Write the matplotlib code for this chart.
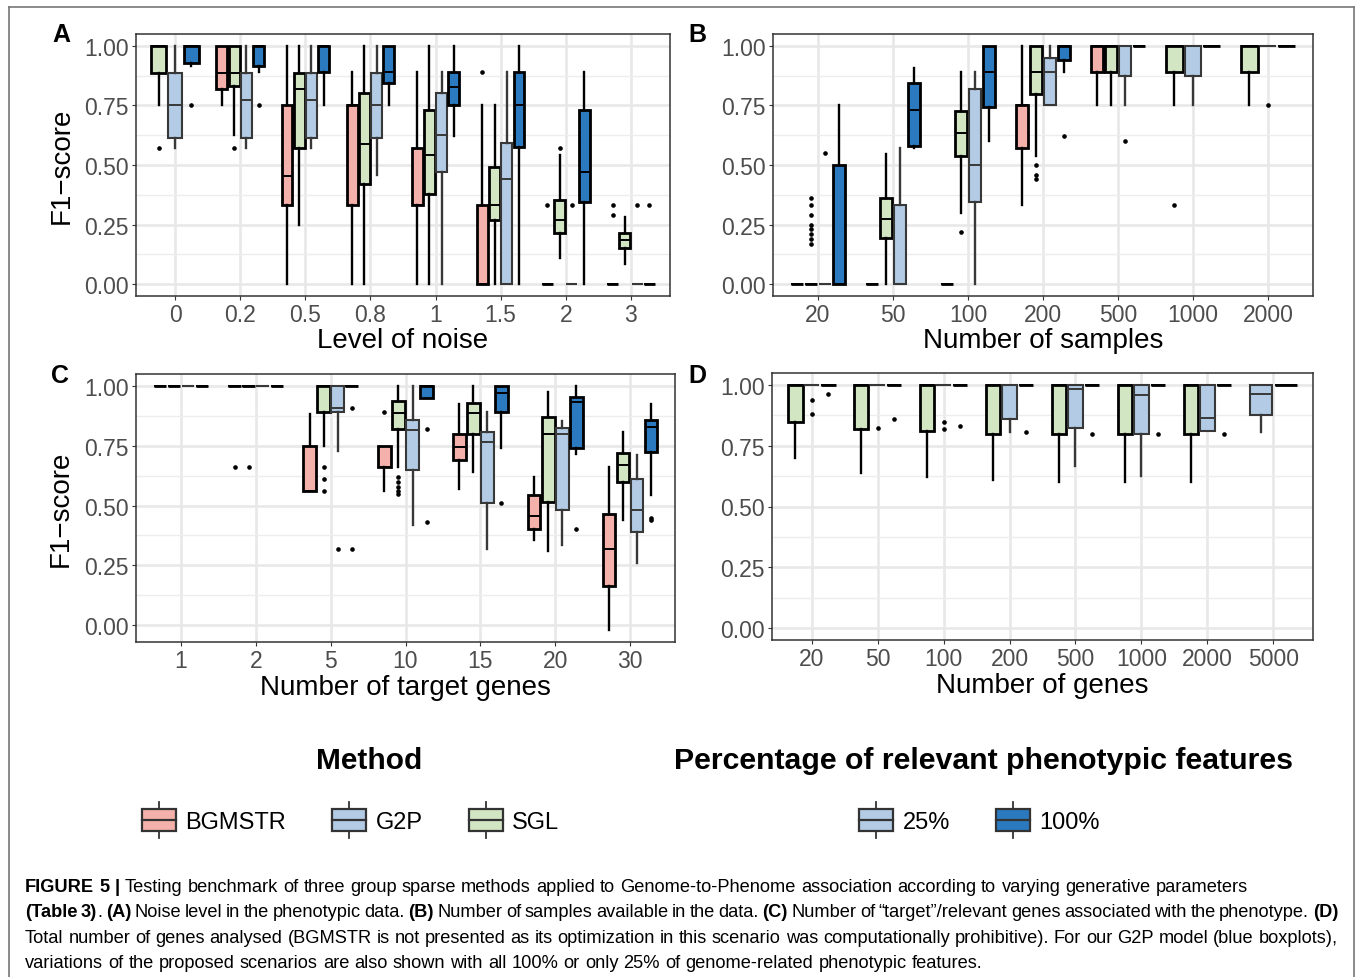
import numpy as np
import matplotlib
matplotlib.use('Agg')
import matplotlib.pyplot as plt
from matplotlib.patches import Patch, Rectangle
from matplotlib.lines import Line2D
from matplotlib.legend_handler import HandlerBase

plt.rcParams['font.family'] = ['Liberation Sans', 'DejaVu Sans']

W, H = 1357, 978

# ---- data: five-number summaries [lower whisker, q1, median, q3, upper whisker], None = not run
# panel A: level of noise
noise_levels = ['0', '0.2', '0.5', '0.8', '1', '1.5', '2', '3']
noise_bgmstr = [None, [0.75, 0.817, 0.886, 1, 1], [0, 0.33, 0.453, 0.75, 1], [0, 0.33, 0.75, 0.75, 0.889],
                [0, 0.33, 0.33, 0.57, 0.889], [0, 0, 0, 0.33, 0.75], [0, 0, 0, 0, 0], [0, 0, 0, 0, 0]]
noise_bgmstr_out = [[], [], [], [], [], [0.889], [0.33], [0.33, 0.29]]
noise_sgl = [[0.75, 0.886, 1, 1, 1], [0.625, 0.833, 0.886, 1, 1], [0.247, 0.572, 0.817, 0.886, 1],
             [0, 0.42, 0.588, 0.803, 1], [0, 0.38, 0.544, 0.729, 1], [0, 0.271, 0.33, 0.492, 0.75],
             [0.111, 0.215, 0.267, 0.354, 0.542], [0.083, 0.153, 0.185, 0.215, 0.28]]
noise_sgl_out = [[0.57], [0.57], [], [], [], [], [0.57], []]
noise_g2p25 = [[0.57, 0.614, 0.75, 0.886, 1], [0.57, 0.614, 0.775, 0.886, 1], [0.57, 0.614, 0.775, 0.886, 1],
               [0.458, 0.614, 0.75, 0.886, 1], [0, 0.469, 0.625, 0.803, 0.889], [0, 0, 0.44, 0.592, 0.889],
               [0, 0, 0, 0, 0], [0, 0, 0, 0, 0]]
noise_g2p25_out = [[], [], [], [], [], [], [0.33], [0.33]]
noise_g2p100 = [[0.914, 0.928, 1, 1, 1], [0.889, 0.917, 1, 1, 1], [0.75, 0.892, 1, 1, 1],
                [0.75, 0.843, 0.889, 1, 1], [0.621, 0.75, 0.829, 0.889, 1], [0, 0.576, 0.75, 0.889, 1],
                [0, 0.344, 0.469, 0.732, 0.889], [0, 0, 0, 0, 0]]
noise_g2p100_out = [[0.75], [0.75], [], [], [], [], [], [0.33]]

# panel B: number of samples
sample_sizes = ['20', '50', '100', '200', '500', '1000', '2000']
samp_bgmstr = [[0, 0, 0, 0, 0], [0, 0, 0, 0, 0], [0, 0, 0, 0, 0], [0.334, 0.57, 0.75, 0.75, 1],
               [0.75, 0.889, 1, 1, 1], None, None]
samp_bgmstr_out = [[], [], [], [], [], [], []]
samp_sgl = [[0, 0, 0, 0, 0], [0, 0.195, 0.275, 0.36, 0.546], [0.30, 0.538, 0.636, 0.727, 0.889],
            [0.536, 0.8, 0.889, 1, 1], [0.75, 0.889, 1, 1, 1], [0.75, 0.889, 1, 1, 1], [0.75, 0.889, 1, 1, 1]]
samp_sgl_out = [[0.36, 0.33, 0.29, 0.25, 0.23, 0.21, 0.19, 0.17], [], [0.22], [0.5, 0.46, 0.44], [], [0.33], []]
samp_g2p25 = [[0, 0, 0, 0, 0], [0, 0, 0, 0.33, 0.571], [0, 0.345, 0.5, 0.82, 0.889], [0.75, 0.75, 0.889, 0.95, 1],
              [0.75, 0.875, 1, 1, 1], [0.75, 0.875, 1, 1, 1], [1, 1, 1, 1, 1]]
samp_g2p25_out = [[0.55], [], [], [], [0.6], [], [0.75]]
samp_g2p100 = [[0, 0, 0, 0.5, 0.75], [0.571, 0.58, 0.73, 0.845, 0.908], [0.6, 0.745, 0.889, 1, 1],
               [0.889, 0.94, 1, 1, 1], [1, 1, 1, 1, 1], [1, 1, 1, 1, 1], [1, 1, 1, 1, 1]]
samp_g2p100_out = [[], [], [], [0.62], [], [], []]

# panel C: number of target genes
target_genes = ['1', '2', '5', '10', '15', '20', '30']
targ_bgmstr = [[1, 1, 1, 1, 1], [1, 1, 1, 1, 1], [0.56, 0.56, 0.56, 0.75, 0.885], [0.56, 0.66, 0.66, 0.75, 0.75],
               [0.57, 0.69, 0.745, 0.8, 0.925], [0.355, 0.4, 0.455, 0.545, 0.62], [-0.02, 0.165, 0.32, 0.465, 0.66]]
targ_bgmstr_out = [[], [0.66], [], [0.89], [], [], []]
targ_sgl = [[1, 1, 1, 1, 1], [1, 1, 1, 1, 1], [0.75, 0.89, 1, 1, 1], [0.66, 0.82, 0.886, 0.94, 1],
            [0.64, 0.8, 0.886, 0.93, 1], [0.31, 0.515, 0.8, 0.87, 0.975], [0.44, 0.6, 0.67, 0.72, 0.81]]
targ_sgl_out = [[], [0.66], [0.66, 0.61, 0.56], [0.62, 0.6, 0.58, 0.56, 0.55], [], [], []]
targ_g2p25 = [[1, 1, 1, 1, 1], [1, 1, 1, 1, 1], [0.73, 0.89, 0.91, 1, 1], [0.42, 0.65, 0.815, 0.86, 1],
              [0.32, 0.51, 0.765, 0.81, 0.89], [0.335, 0.48, 0.8, 0.825, 0.855], [0.26, 0.39, 0.48, 0.61, 0.71]]
targ_g2p25_out = [[], [], [0.32], [], [], [], []]
targ_g2p100 = [[1, 1, 1, 1, 1], [1, 1, 1, 1, 1], [1, 1, 1, 1, 1], [0.95, 0.95, 1, 1, 1],
               [0.74, 0.89, 0.97, 1, 1], [0.715, 0.74, 0.935, 0.955, 1], [0.545, 0.725, 0.83, 0.86, 0.925]]
targ_g2p100_out = [[], [], [0.91, 0.32], [0.82, 0.43], [0.51], [0.4], [0.45, 0.44]]

# panel D: total number of genes (no BGMSTR)
gene_counts = ['20', '50', '100', '200', '500', '1000', '2000', '5000']
gene_bgmstr = [None] * 8
gene_bgmstr_out = [[]] * 8
gene_sgl = [[0.7, 0.85, 1, 1, 1], [0.64, 0.82, 1, 1, 1], [0.62, 0.81, 1, 1, 1], [0.61, 0.8, 1, 1, 1],
            [0.6, 0.8, 1, 1, 1], [0.6, 0.8, 1, 1, 1], [0.6, 0.8, 1, 1, 1], None]
gene_sgl_out = [[], [], [], [], [], [], [], []]
gene_g2p25 = [[1, 1, 1, 1, 1], [1, 1, 1, 1, 1], [1, 1, 1, 1, 1], [0.805, 0.86, 1, 1, 1],
              [0.665, 0.825, 0.985, 1, 1], [0.625, 0.8, 0.96, 1, 1], [0.81, 0.81, 0.865, 1, 1],
              [0.805, 0.875, 0.965, 1, 1]]
gene_g2p25_out = [[0.94, 0.88], [0.825], [0.85, 0.82], [], [], [], [], []]
gene_g2p100 = [[1, 1, 1, 1, 1]] * 8
gene_g2p100_out = [[0.965], [0.86], [0.83], [0.805], [0.8], [0.8], [0.8], []]

GROUPS = ['BGMSTR', 'SGL', 'G2P25', 'G2P100']
FILL = {'BGMSTR': '#F4B0AB', 'SGL': '#D3E6C4', 'G2P25': '#B3CBE5', 'G2P100': '#2B7AC0'}
EDGE = {'BGMSTR': 'black', 'SGL': 'black', 'G2P25': '#383838', 'G2P100': 'black'}


def draw_panel(ax, cats, series, xlabel, ylabel=None):
    n_cat = len(cats)
    allv = [0.0, 1.0]  # y scale always covers 0..1
    for g in GROUPS:
        summ, outs = series[g]
        stats, pos, widths = [], [], []
        for ci in range(n_cat):
            if summ[ci] is None:
                continue
            present = [h for h in GROUPS if series[h][0][ci] is not None]
            n = len(present)
            slot = 0.75 / n
            k = present.index(g)
            pos.append(ci + (k - (n - 1) / 2) * slot)
            widths.append(slot * 0.9)
            lo, q1, med, q3, hi = summ[ci]
            stats.append(dict(whislo=lo, q1=q1, med=med, q3=q3, whishi=hi, fliers=outs[ci]))
            allv += list(summ[ci]) + list(outs[ci])
        if not stats:
            continue
        ec = EDGE[g]
        lw = 1.5 if g == 'G2P25' else 2.0
        ax.bxp(stats, positions=pos, widths=widths, patch_artist=True, showcaps=False,
               boxprops=dict(facecolor=FILL[g], edgecolor=ec, linewidth=lw),
               medianprops=dict(color=ec, linewidth=1.4),
               whiskerprops=dict(color=ec, linewidth=1.7),
               flierprops=dict(marker='o', markersize=2.3, markerfacecolor='black',
                               markeredgecolor='black', linestyle='none'),
               manage_ticks=False)
    ax.set_xticks(range(n_cat))
    ax.set_xticklabels(cats)
    ax.set_yticks([0, 0.25, 0.5, 0.75, 1.0])
    ax.set_yticklabels(['0.00', '0.25', '0.50', '0.75', '1.00'])
    ax.set_yticks([0.125, 0.375, 0.625, 0.875], minor=True)
    lo, hi = min(allv), max(allv)
    pad = 0.05 * (hi - lo)
    ax.set_ylim(lo - pad, hi + pad)
    ax.set_xlim(-0.6, n_cat - 1 + 0.6)
    ax.grid(True, which='major', color='#E8E8E8', linewidth=1.9)
    ax.grid(True, which='minor', axis='y', color='#EDEDED', linewidth=1.0)
    ax.set_axisbelow(True)
    ax.tick_params(which='major', length=3, width=0.8, color='#333333', labelcolor='#4D4D4D',
                   labelsize=16.5, pad=2)
    ax.tick_params(which='minor', length=0)
    for s in ax.spines.values():
        s.set_color('#333333')
        s.set_linewidth(1.1)
    ax.set_xlabel(xlabel, fontsize=20, color='black')
    ax.xaxis.set_label_coords(0.5, -0.12)
    if ylabel:
        ax.set_ylabel(ylabel, fontsize=20, color='black')
        ax.yaxis.set_label_coords(-0.115, 0.5)


def px_axes(fig, x0, y0, x1, y1):
    return fig.add_axes([x0 / W, 1 - y1 / H, (x1 - x0) / W, (y1 - y0) / H])


fig = plt.figure(figsize=(W / 100, H / 100), dpi=100)
fig.patch.set_facecolor('white')

axA = px_axes(fig, 136, 35, 670, 297)
axB = px_axes(fig, 773, 35, 1313, 297)
axC = px_axes(fig, 136, 375, 675, 643)
axD = px_axes(fig, 772, 374, 1313, 641)

draw_panel(axA, noise_levels, {'BGMSTR': (noise_bgmstr, noise_bgmstr_out), 'SGL': (noise_sgl, noise_sgl_out),
                               'G2P25': (noise_g2p25, noise_g2p25_out), 'G2P100': (noise_g2p100, noise_g2p100_out)},
           'Level of noise', 'F1\u2212score')
draw_panel(axB, sample_sizes, {'BGMSTR': (samp_bgmstr, samp_bgmstr_out), 'SGL': (samp_sgl, samp_sgl_out),
                               'G2P25': (samp_g2p25, samp_g2p25_out), 'G2P100': (samp_g2p100, samp_g2p100_out)},
           'Number of samples')
draw_panel(axC, target_genes, {'BGMSTR': (targ_bgmstr, targ_bgmstr_out), 'SGL': (targ_sgl, targ_sgl_out),
                               'G2P25': (targ_g2p25, targ_g2p25_out), 'G2P100': (targ_g2p100, targ_g2p100_out)},
           'Number of target genes', 'F1\u2212score')
draw_panel(axD, gene_counts, {'BGMSTR': (gene_bgmstr, gene_bgmstr_out), 'SGL': (gene_sgl, gene_sgl_out),
                              'G2P25': (gene_g2p25, gene_g2p25_out), 'G2P100': (gene_g2p100, gene_g2p100_out)},
           'Number of genes')

for letter, x, y in [('A', 61, 35), ('B', 697, 35), ('C', 60, 376), ('D', 697, 376)]:
    fig.text(x / W, 1 - y / H, letter, ha='center', va='center', fontsize=18, weight='bold')


# legend keys drawn like small boxplots
class BoxKey(HandlerBase):
    def create_artists(self, legend, orig_handle, xdescent, ydescent, width, height, fontsize, trans):
        x0, y0 = -xdescent, -ydescent
        bh = 16
        yb = y0 + (height - bh) / 2
        fc = orig_handle.get_facecolor()
        rect = Rectangle((x0, yb), width, bh, facecolor=fc, edgecolor='#333333', linewidth=1.6, transform=trans)
        xm = x0 + width / 2
        med = Line2D([x0, x0 + width], [yb + bh / 2] * 2, color='#333333', linewidth=1.6, transform=trans)
        w1 = Line2D([xm, xm], [yb + bh, yb + bh + 5], color='#333333', linewidth=1.3, transform=trans)
        w2 = Line2D([xm, xm], [yb, yb - 5], color='#333333', linewidth=1.3, transform=trans)
        return [w1, w2, rect, med]


leg_kw = dict(handler_map={Patch: BoxKey()}, frameon=False, handlelength=1.44, handleheight=1.0,
              handletextpad=0.4, columnspacing=1.95, fontsize=17, borderpad=0, borderaxespad=0)
method_labels = ['BGMSTR', 'G2P', 'SGL']
method_handles = [Patch(facecolor=FILL['BGMSTR']), Patch(facecolor=FILL['G2P25']), Patch(facecolor=FILL['SGL'])]
pct_labels = ['25%', '100%']
pct_handles = [Patch(facecolor=FILL['G2P25']), Patch(facecolor=FILL['G2P100'])]
fig.legend(method_handles, method_labels, loc='center left', bbox_to_anchor=(142 / W, 1 - 822 / H), ncol=3, **leg_kw)
fig.legend(pct_handles, pct_labels, loc='center left', bbox_to_anchor=(859 / W, 1 - 822 / H), ncol=2, **leg_kw)
fig.text(369 / W, 1 - 761 / H, 'Method', ha='center', va='center', fontsize=21.5, weight='bold')
fig.text(983 / W, 1 - 761 / H, 'Percentage of relevant phenotypic features', ha='center', va='center',
         fontsize=21.8, weight='bold')

# outer frame
frame_kw = dict(color='#777777', linewidth=1.2, transform=fig.transFigure)
fig.add_artist(Line2D([9 / W, 9 / W], [1 - 8 / H, 0], **frame_kw))
fig.add_artist(Line2D([1354 / W, 1354 / W], [1 - 8 / H, 0], **frame_kw))
fig.add_artist(Line2D([9 / W, 1354 / W], [1 - 8 / H, 1 - 8 / H], **frame_kw))

# caption with bold fragments, lines 2-3 justified
caption = [
    ([('FIGURE 5 |', True), (' Testing benchmark of three group sparse methods applied to Genome-to-Phenome '
                             'association according to varying generative parameters', False)], 892, False),
    ([('(Table 3)', True), ('. ', False), ('(A)', True), (' Noise level in the phenotypic data. ', False),
      ('(B)', True), (' Number of samples available in the data. ', False), ('(C)', True),
      (' Number of \u201ctarget\u201d/relevant genes associated with the phenotype. ', False), ('(D)', True)], 917, True),
    ([('Total number of genes analysed (BGMSTR is not presented as its optimization in this scenario was '
       'computationally prohibitive). For our G2P model (blue boxplots),', False)], 943, True),
    ([('variations of the proposed scenarios are also shown with all 100% or only 25% of genome-related '
       'phenotypic features.', False)], 968, False),
]
renderer = fig.canvas.get_renderer()


def text_w(s, bold, size):
    t = fig.text(0, 0, s, fontsize=size, weight='bold' if bold else 'normal')
    w = t.get_window_extent(renderer).width
    t.remove()
    return w


def split_words(parts):
    words, cur = [], []
    for txt, bold in parts:
        pieces = txt.split(' ')
        for i, p in enumerate(pieces):
            if i > 0 and cur:
                words.append(cur)
                cur = []
            if p:
                cur.append((p, bold))
    if cur:
        words.append(cur)
    return words


cap_size = 13
line1 = sum(text_w(t, b, cap_size) for t, b in caption[0][0])
cap_size = cap_size * 1225 / line1
space_w = text_w('a a', False, cap_size) - text_w('aa', False, cap_size)
x_left, x_right = 25, 1338
for parts, yb, justify in caption:
    words = split_words(parts)
    widths = [[text_w(t, b, cap_size) for t, b in wd] for wd in words]
    total = sum(sum(w) for w in widths)
    gap = (x_right - x_left - total) / (len(words) - 1) if justify else space_w
    x = x_left
    for wd, ws in zip(words, widths):
        for (t, b), w in zip(wd, ws):
            fig.text(x / W, 1 - yb / H, t, fontsize=cap_size, weight='bold' if b else 'normal',
                     ha='left', va='baseline')
            x += w
        x += gap

fig.savefig('out.png', dpi=100)
